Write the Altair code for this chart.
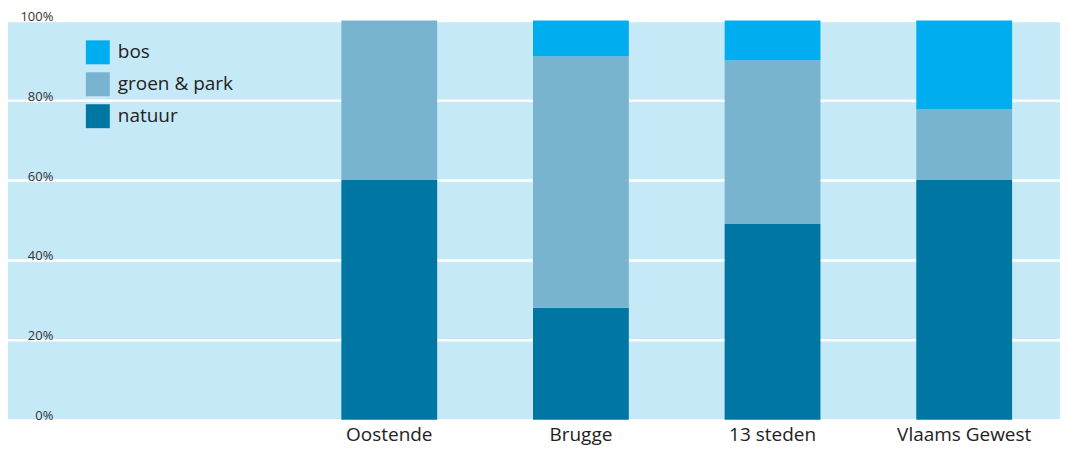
import altair as alt
import pandas as pd

regions = ["Oostende", "Brugge", "13 steden", "Vlaams Gewest"]
natuur = [60, 28, 49, 60]
groen_park = [40, 63, 41, 17.75]
bos = [0, 9, 10, 22.25]

types = ["bos", "groen & park", "natuur"]
type_colors = ["#00AEEF", "#78B3D0", "#0077A3"]
stack_rank = {"natuur": 0, "groen & park": 1, "bos": 2}
y_ticks = [0, 20, 40, 60, 80, 100]

rows = []
for i, r in enumerate(regions):
    for t, vals in (("natuur", natuur), ("groen & park", groen_park), ("bos", bos)):
        rows.append({"regio": r, "type": t, "aandeel": vals[i], "rank": stack_rank[t]})
df = pd.DataFrame(rows)

FONT = "Open Sans"

chart = alt.Chart(df).mark_bar().encode(
    x=alt.X("regio:N", sort=regions, title=None,
            scale=alt.Scale(paddingInner=0.5, paddingOuter=1, align=0.875),
            axis=alt.Axis(domain=False, ticks=False, labelAngle=0, labelFontSize=19,
                          labelColor="#222222", labelFont=FONT, labelPadding=6)),
    y=alt.Y("aandeel:Q", stack="zero", title=None,
            scale=alt.Scale(domain=[0, 100], nice=False),
            axis=alt.Axis(values=y_ticks, domain=False, ticks=False, grid=True,
                          gridColor="white", gridWidth=2.5, gridOpacity=1,
                          labelExpr="datum.value + '%'", labelAlign="right",
                          labelBaseline="alphabetic", labelPadding=-47, labelOffset=0,
                          labelFlush=False, labelFontSize=13, labelColor="#333333",
                          labelFont=FONT)),
    color=alt.Color("type:N", scale=alt.Scale(domain=types, range=type_colors),
                    legend=alt.Legend(title=None, orient="none", legendX=80, legendY=20,
                                      symbolType="square", symbolSize=576,
                                      symbolStrokeWidth=0, labelFontSize=19,
                                      labelFont=FONT, labelColor="#222222",
                                      labelOffset=8, rowPadding=8, padding=0)),
    order=alt.Order("rank:Q", sort="ascending"),
    tooltip=["regio", "type", "aandeel"],
).properties(
    width=1056, height=400,
    background="white",
    autosize=alt.AutoSizeParams(type="none"),
    padding={"left": -2, "top": 12, "right": 0, "bottom": 32},
).configure_view(
    fill="#C6E9F8", strokeWidth=0
)

chart.save("out.html", embed_options={"renderer": "svg", "actions": False})
